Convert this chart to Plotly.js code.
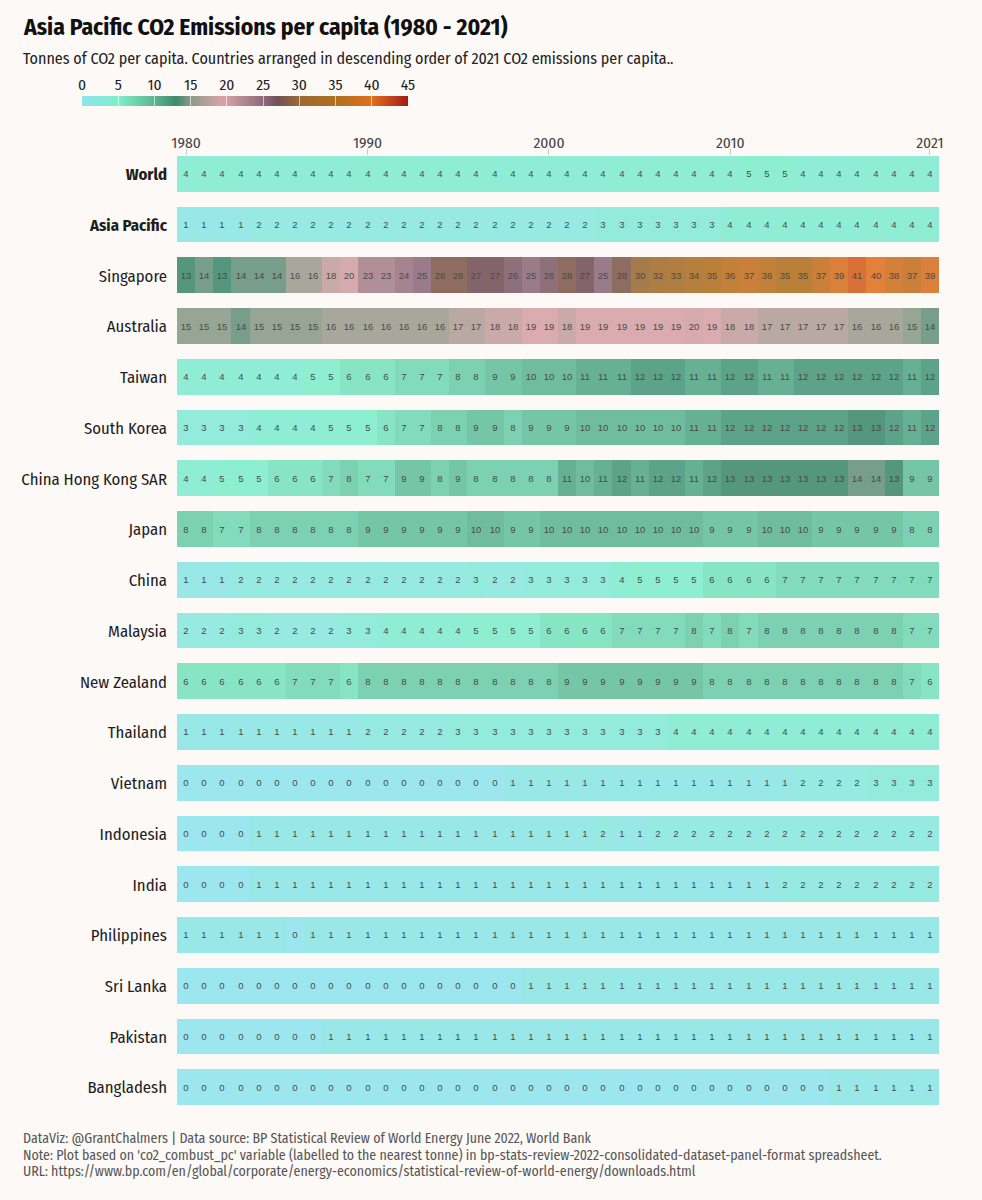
<!DOCTYPE html>
<html>
<head>
<meta charset="utf-8">
<script src="https://cdn.plot.ly/plotly-3.0.1.min.js"></script>
<style>
  html, body { margin: 0; padding: 0; background: #fdf9f7; }
  #chart { width: 982px; height: 1200px; }
</style>
</head>
<body>
<div id="chart"></div>
<script>
// Years shown across the columns
const years = [
  1980, 1981, 1982, 1983, 1984, 1985, 1986, 1987, 1988, 1989,
  1990, 1991, 1992, 1993, 1994, 1995, 1996, 1997, 1998, 1999,
  2000, 2001, 2002, 2003, 2004, 2005, 2006, 2007, 2008, 2009,
  2010, 2011, 2012, 2013, 2014, 2015, 2016, 2017, 2018, 2019,
  2020, 2021
];
const yearTicks = [1980, 1990, 2000, 2010, 2021];

// Countries, top to bottom (aggregates first, then by 2021 value)
const countries = [
  'World', 'Asia Pacific', 'Singapore', 'Australia', 'Taiwan', 'South Korea',
  'China Hong Kong SAR', 'Japan', 'China', 'Malaysia', 'New Zealand', 'Thailand',
  'Vietnam', 'Indonesia', 'India', 'Philippines', 'Sri Lanka', 'Pakistan', 'Bangladesh'
];
const boldRows = ['World', 'Asia Pacific'];

// Tonnes of CO2 per capita, 1980 - 2021 (rounded to the nearest tonne)
const world = [
  4, 4, 4, 4, 4, 4, 4, 4, 4, 4,
  4, 4, 4, 4, 4, 4, 4, 4, 4, 4,
  4, 4, 4, 4, 4, 4, 4, 4, 4, 4,
  4, 5, 5, 5, 4, 4, 4, 4, 4, 4,
  4, 4
];
const asiaPacific = [
  1, 1, 1, 1, 2, 2, 2, 2, 2, 2,
  2, 2, 2, 2, 2, 2, 2, 2, 2, 2,
  2, 2, 2, 3, 3, 3, 3, 3, 3, 3,
  4, 4, 4, 4, 4, 4, 4, 4, 4, 4,
  4, 4
];
const singapore = [
  13, 14, 13, 14, 14, 14, 16, 16, 18, 20,
  23, 23, 24, 25, 28, 28, 27, 27, 26, 25,
  26, 28, 27, 25, 28, 30, 32, 33, 34, 35,
  36, 37, 36, 35, 35, 37, 39, 41, 40, 38,
  37, 39
];
const australia = [
  15, 15, 15, 14, 15, 15, 15, 15, 16, 16,
  16, 16, 16, 16, 16, 17, 17, 18, 18, 19,
  19, 18, 19, 19, 19, 19, 19, 19, 20, 19,
  18, 18, 17, 17, 17, 17, 17, 16, 16, 16,
  15, 14
];
const taiwan = [
  4, 4, 4, 4, 4, 4, 4, 5, 5, 6,
  6, 6, 7, 7, 7, 8, 8, 9, 9, 10,
  10, 10, 11, 11, 11, 12, 12, 12, 11, 11,
  12, 12, 11, 11, 12, 12, 12, 12, 12, 12,
  11, 12
];
const southKorea = [
  3, 3, 3, 3, 4, 4, 4, 4, 5, 5,
  5, 6, 7, 7, 8, 8, 9, 9, 8, 9,
  9, 9, 10, 10, 10, 10, 10, 10, 11, 11,
  12, 12, 12, 12, 12, 12, 12, 13, 13, 12,
  11, 12
];
const hongKong = [
  4, 4, 5, 5, 5, 6, 6, 6, 7, 8,
  7, 7, 9, 9, 8, 9, 8, 8, 8, 8,
  8, 11, 10, 11, 12, 11, 12, 12, 11, 12,
  13, 13, 13, 13, 13, 13, 13, 14, 14, 13,
  9, 9
];
const japan = [
  8, 8, 7, 7, 8, 8, 8, 8, 8, 8,
  9, 9, 9, 9, 9, 9, 10, 10, 9, 9,
  10, 10, 10, 10, 10, 10, 10, 10, 10, 9,
  9, 9, 10, 10, 10, 9, 9, 9, 9, 9,
  8, 8
];
const china = [
  1, 1, 1, 2, 2, 2, 2, 2, 2, 2,
  2, 2, 2, 2, 2, 2, 3, 2, 2, 3,
  3, 3, 3, 3, 4, 5, 5, 5, 5, 6,
  6, 6, 6, 7, 7, 7, 7, 7, 7, 7,
  7, 7
];
const malaysia = [
  2, 2, 2, 3, 3, 2, 2, 2, 2, 3,
  3, 4, 4, 4, 4, 4, 5, 5, 5, 5,
  6, 6, 6, 6, 7, 7, 7, 7, 8, 7,
  8, 7, 8, 8, 8, 8, 8, 8, 8, 8,
  7, 7
];
const newZealand = [
  6, 6, 6, 6, 6, 6, 7, 7, 7, 6,
  8, 8, 8, 8, 8, 8, 8, 8, 8, 8,
  8, 9, 9, 9, 9, 9, 9, 9, 9, 8,
  8, 8, 8, 8, 8, 8, 8, 8, 8, 8,
  7, 6
];
const thailand = [
  1, 1, 1, 1, 1, 1, 1, 1, 1, 1,
  2, 2, 2, 2, 2, 3, 3, 3, 3, 3,
  3, 3, 3, 3, 3, 3, 3, 4, 4, 4,
  4, 4, 4, 4, 4, 4, 4, 4, 4, 4,
  4, 4
];
const vietnam = [
  0, 0, 0, 0, 0, 0, 0, 0, 0, 0,
  0, 0, 0, 0, 0, 0, 0, 0, 1, 1,
  1, 1, 1, 1, 1, 1, 1, 1, 1, 1,
  1, 1, 1, 1, 2, 2, 2, 2, 3, 3,
  3, 3
];
const indonesia = [
  0, 0, 0, 0, 1, 1, 1, 1, 1, 1,
  1, 1, 1, 1, 1, 1, 1, 1, 1, 1,
  1, 1, 1, 2, 1, 1, 2, 2, 2, 2,
  2, 2, 2, 2, 2, 2, 2, 2, 2, 2,
  2, 2
];
const india = [
  0, 0, 0, 0, 1, 1, 1, 1, 1, 1,
  1, 1, 1, 1, 1, 1, 1, 1, 1, 1,
  1, 1, 1, 1, 1, 1, 1, 1, 1, 1,
  1, 1, 1, 2, 2, 2, 2, 2, 2, 2,
  2, 2
];
const philippines = [
  1, 1, 1, 1, 1, 1, 0, 1, 1, 1,
  1, 1, 1, 1, 1, 1, 1, 1, 1, 1,
  1, 1, 1, 1, 1, 1, 1, 1, 1, 1,
  1, 1, 1, 1, 1, 1, 1, 1, 1, 1,
  1, 1
];
const sriLanka = [
  0, 0, 0, 0, 0, 0, 0, 0, 0, 0,
  0, 0, 0, 0, 0, 0, 0, 0, 0, 1,
  1, 1, 1, 1, 1, 1, 1, 1, 1, 1,
  1, 1, 1, 1, 1, 1, 1, 1, 1, 1,
  1, 1
];
const pakistan = [
  0, 0, 0, 0, 0, 0, 0, 0, 1, 1,
  1, 1, 1, 1, 1, 1, 1, 1, 1, 1,
  1, 1, 1, 1, 1, 1, 1, 1, 1, 1,
  1, 1, 1, 1, 1, 1, 1, 1, 1, 1,
  1, 1
];
const bangladesh = [
  0, 0, 0, 0, 0, 0, 0, 0, 0, 0,
  0, 0, 0, 0, 0, 0, 0, 0, 0, 0,
  0, 0, 0, 0, 0, 0, 0, 0, 0, 0,
  0, 0, 0, 0, 0, 0, 1, 1, 1, 1,
  1, 1
];

const legendTicks = [0, 5, 10, 15, 20, 25, 30, 35, 40, 45];

// ---- presentation ----
const rows = [
  world, asiaPacific, singapore, australia, taiwan, southKorea, hongKong, japan,
  china, malaysia, newZealand, thailand, vietnam, indonesia, india, philippines,
  sriLanka, pakistan, bangladesh
];

const zMax = 45;
const colorStops = [
  [0, '#8ee4ee'],
  [5, '#7eeeca'],
  [10, '#5cb592'],
  [13, '#3e8a6e'],
  [15, '#8a9a88'],
  [19, '#d6a2a6'],
  [20, '#d2a0a4'],
  [25, '#8c6a7a'],
  [27, '#735058'],
  [30, '#9a6a34'],
  [35, '#b07020'],
  [40, '#e07020'],
  [45, '#a31a16']
].map(([v, c]) => [v / zMax, c]);

const W = 982, H = 1200;
const M = { l: 20, r: 20, t: 20, b: 20 };
// pixel -> paper helpers
const px = x => (x - M.l) / (W - M.l - M.r);
const py = y => (H - M.b - y) / (H - M.t - M.b);

const FONT = "'Fira Sans Condensed', 'Roboto Condensed', 'Liberation Sans Narrow', 'DejaVu Sans Condensed', 'Roboto', sans-serif";
const CELL_FONT = "'Liberation Sans', Arial, sans-serif";

const heat = {
  type: 'heatmap',
  x: years,
  y: countries,
  z: rows,
  zmin: 0,
  zmax: zMax,
  colorscale: colorStops,
  opacity: 0.88,
  xgap: 0,
  ygap: 15,
  texttemplate: '%{z}',
  textfont: { family: CELL_FONT, size: 9.5, color: '#4a4a4a' },
  hoverinfo: 'x+y+z',
  colorbar: {
    orientation: 'h',
    x: px(82), xanchor: 'left', xpad: 0,
    y: py(106), yanchor: 'middle', ypad: 0,
    len: 326, lenmode: 'pixels',
    thickness: 10, thicknessmode: 'pixels',
    outlinewidth: 0,
    tickmode: 'array',
    tickvals: legendTicks,
    ticks: 'inside', ticklen: 10, tickwidth: 1, tickcolor: 'rgba(255,255,255,0.6)',
    showticklabels: false
  }
};

// empty trace so the legend tick-label axis is drawn
const legendAxisHolder = {
  type: 'scatter', x: [], y: [], xaxis: 'x2', yaxis: 'y2',
  hoverinfo: 'skip', showlegend: false
};

function note(text, yPix, size, color, bold) {
  return {
    xref: 'paper', yref: 'paper',
    x: px(21), y: py(yPix), xanchor: 'left', yanchor: 'middle',
    text: bold ? '<b>' + text + '</b>' : text,
    showarrow: false, align: 'left',
    font: { size: size, color: color }
  };
}

const layout = {
  width: W, height: H,
  margin: M,
  paper_bgcolor: '#fdf9f7',
  plot_bgcolor: '#fdf9f7',
  font: { family: FONT, color: '#333' },
  showlegend: false,
  xaxis: {
    domain: [px(177), px(939)],
    side: 'top',
    tickmode: 'array',
    tickvals: yearTicks,
    ticktext: yearTicks.map(String),
    ticks: 'inside', ticklen: 6, tickcolor: '#c8c8c8', tickwidth: 1,
    ticklabelstandoff: -3,
    tickfont: { size: 15.5, color: '#444' },
    showgrid: false, zeroline: false, showline: false,
    fixedrange: true
  },
  yaxis: {
    domain: [py(1113), py(149)],
    autorange: 'reversed',
    tickmode: 'array',
    tickvals: countries,
    ticktext: countries.map(c => boldRows.includes(c) ? '<b>' + c + '</b>' : c),
    ticks: '',
    ticklabelstandoff: 9,
    tickfont: { size: 16.7, color: '#1e1e1e' },
    showgrid: false, zeroline: false, showline: false,
    fixedrange: true
  },
  xaxis2: {
    domain: [px(82), px(408)],
    anchor: 'y2',
    side: 'top',
    range: [0, zMax],
    tickmode: 'array',
    tickvals: legendTicks,
    ticks: '',
    ticklabelstandoff: 7,
    tickfont: { size: 15.5, color: '#222' },
    showgrid: false, zeroline: false, showline: false,
    fixedrange: true
  },
  yaxis2: {
    domain: [py(111), py(101)],
    anchor: 'x2',
    range: [0, 1],
    visible: false,
    fixedrange: true
  },
  annotations: [
    note('Asia Pacific CO2 Emissions per capita (1980 - 2021)', 27, 23.5, '#111', true),
    note('Tonnes of CO2 per capita. Countries arranged in descending order of 2021 CO2 emissions per capita..', 58, 16, '#222', false),
    note('DataViz: @GrantChalmers | Data source: BP Statistical Review of World Energy June 2022, World Bank', 1138, 13.9, '#555', false),
    note("Note: Plot based on 'co2_combust_pc' variable (labelled to the nearest tonne) in bp-stats-review-2022-consolidated-dataset-panel-format spreadsheet.", 1155, 13.9, '#555', false),
    note('URL: https://www.bp.com/en/global/corporate/energy-economics/statistical-review-of-world-energy/downloads.html', 1171, 13.9, '#555', false)
  ]
};

Plotly.newPlot('chart', [heat, legendAxisHolder], layout, { displayModeBar: false, staticPlot: true });
</script>
</body>
</html>
